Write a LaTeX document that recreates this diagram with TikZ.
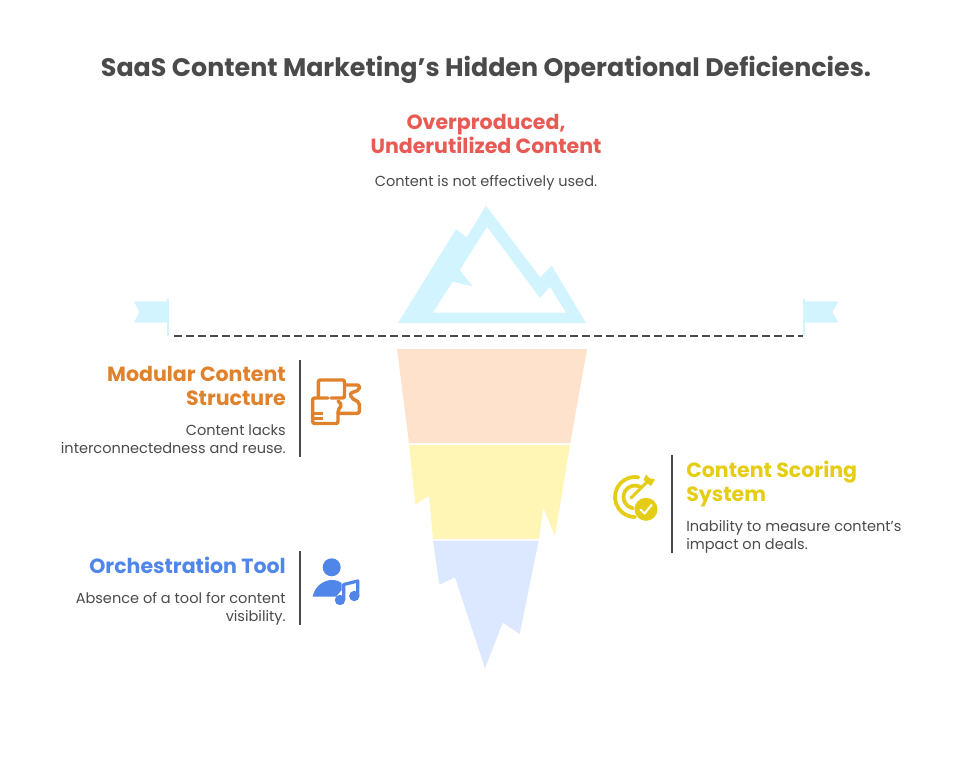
\documentclass[tikz,border=0pt]{standalone}
\usepackage{fontspec}
\setmainfont[Ligatures=ResetAll]{Poppins}
\usetikzlibrary{positioning}

\definecolor{inkt}{HTML}{4A4A4A}
\definecolor{ijs}{HTML}{D1F4FF}
\definecolor{rood}{HTML}{E85A54}
\definecolor{oranje}{HTML}{E0812C}
\definecolor{oranjelicht}{HTML}{FFE2CC}
\definecolor{geel}{HTML}{E5CD16}
\definecolor{geellicht}{HTML}{FFF6B6}
\definecolor{blauw}{HTML}{4F86E8}
\definecolor{blauwlicht}{HTML}{DCE8FF}

\begin{document}
\begin{tikzpicture}
   [
    x=0.75pt, y=-0.75pt,
    every node/.style={inner sep=0pt, text=inkt},
    titel/.style={font=\fontsize{19}{18}\selectfont\bfseries},
    kop/.style={font=\fontsize{15.4}{18}\selectfont\bfseries},
    tekst/.style={font=\fontsize{10.9}{13.5}\selectfont},
    balk/.style={draw=inkt, line width=1.4pt},
    icoon/.style={line width=2.6pt, line join=round, line cap=round, rounded corners=1.5pt}
    ]

\useasboundingbox (0,0) rectangle (972,757);

% title
\node[titel] (titel) at (486,70) {SaaS Content Marketing's Hidden Operational Deficiencies.};

% top
\node[kop, text=rood, align=center] (topkop) at (486,134) {Overproduced,\\Underutilized Content};
\node[tekst, below=16.2pt of topkop] (toptekst) {Content is not effectively used.};

% mountain
\fill[ijs, even odd rule]
    (398,323) -- (456,229.3) -- (466.7,237.3) -- (486,205.7) -- (540,277.3)
    -- (551.7,265.7) -- (586,323) -- cycle
    (487,226.7) -- (540,298) -- (550,286.7) -- (566,312.7) -- (432.7,312.7)
    -- (452.7,281.7) -- (472.7,286.3) -- (459.7,270) -- cycle;

% flags
\fill[ijs] (134,301.3) -- (168,301.3) -- (168,322.7) -- (134,322.7) -- (139,312) -- cycle;
\fill[ijs] (167,299) rectangle (168.7,335.7);
\fill[ijs] (838.3,301.3) -- (804,301.3) -- (804,322.7) -- (838.3,322.7) -- (832.3,312) -- cycle;
\fill[ijs] (803,299) rectangle (805,335.7);

% water line
\coordinate (lijnL) at (174,335.7);
\coordinate (lijnR) at (803,335.7);
\draw[inkt, line width=1.4pt, dash pattern=on 6pt off 3pt] (lijnL) -- (lijnR);

% ice under water
\fill[oranjelicht] (397,349) -- (587,349) -- (570.3,443) -- (409,443) -- cycle;
\fill[geellicht] (409,445) -- (570,445) -- (555,536) -- (543.3,507.7) -- (539,539)
    -- (433,539) -- (429,495.7) -- (415.3,504.7) -- cycle;
\fill[blauwlicht] (433,540.7) -- (538.7,540.7) -- (519.7,634) -- (502.7,622.7)
    -- (485,668.3) -- (455,577.3) -- (439.3,584.7) -- cycle;

% left 1
\node[kop, text=oranje, align=right, anchor=east] (modkop) at (286,386) {Modular Content\\Structure};
\node[tekst, align=right, below=14pt of modkop.south east, anchor=north east] (modtekst)
    {Content lacks\\interconnectedness and reuse.};
\draw[balk] (300,360) -- (300,457);
\draw[oranje, icoon] (318.3,396) -- (318.3,380) -- (344.5,380) -- (344.5,398) -- (331,398);
\draw[oranje, icoon] (328,398) -- (312.7,398) -- (312.7,423.5) -- (338,423.5) -- (338,410) -- (342,405) -- (338,401);
\draw[oranje, icoon] (345,385) -- (359.3,385) -- (359.3,390) -- (350,393.3) -- (351.7,398.3) -- (359.3,402.3) -- (359.3,413.3) -- (338,413.3);
\draw[oranje, line width=1.6pt] (314,413.5) -- (323,413.5) (314,418.5) -- (323,418.5);

% left 2
\node[kop, text=blauw, anchor=east] (orkop) at (286,565) {Orchestration Tool};
\node[tekst, align=right, below=14pt of orkop.south east, anchor=north east] (ortekst)
    {Absence of a tool for content\\visibility.};
\draw[balk] (300,551) -- (300,625);
\fill[blauw] (331.7,567.3) circle[radius=9];
\fill[blauw] (312.7,596.5) .. controls (315,585) and (325,580) .. (332,580)
    .. controls (336,580) and (339,581) .. (341.7,583) -- (341.7,590) -- (336,596.5) -- cycle;
\fill[blauw] (340,600) circle[radius=5.2] (354.3,596) circle[radius=5.2];
\draw[blauw, line width=2.4pt, line join=round] (343.8,600) -- (343.8,584.5) -- (357.8,581) -- (357.8,596);

% right
\node[kop, text=geel, align=left, anchor=west] (scorekop) at (686,484) {Content Scoring\\System};
\node[tekst, align=left, below=10pt of scorekop.south west, anchor=north west] (scoretekst)
    {Inability to measure content's\\impact on deals.};
\draw[balk] (672,455) -- (672,553);
\draw[geel, line width=2.8pt, line cap=round] (635,497) ++(280:20) arc[start angle=280, end angle=90, radius=20];
\draw[geel, line width=2.8pt, line cap=round] (635,497) ++(300:11.5) arc[start angle=300, end angle=100, radius=11.5];
\draw[geel, line width=2.2pt, line cap=round] (631,498) -- (648,481);
\fill[geel] (643.5,480) -- (646,474.5) -- (649,478) -- (655,479.5) -- (651,486) -- cycle;
\fill[geel] (646,509.3) circle[radius=11.5];
\draw[white, line width=1.5pt, line cap=round, line join=round] (640.5,509.5) -- (644.5,513.5) -- (651.5,505);

\end{tikzpicture}
\end{document}
